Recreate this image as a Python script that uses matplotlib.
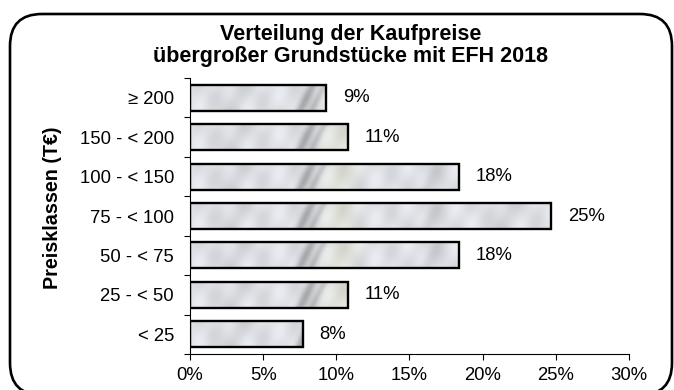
import numpy as np
import matplotlib.pyplot as plt
from matplotlib.patches import FancyBboxPatch

plt.rcParams['font.family'] = ['Liberation Sans', 'DejaVu Sans']

# Preisklassen (T€) von oben nach unten, Anteile in %
klassen = ['≥ 200', '150 - < 200', '100 - < 150', '75 - < 100',
           '50 - < 75', '25 - < 50', '< 25']
anteile = [9.3, 10.8, 18.4, 24.7, 18.4, 10.8, 7.7]
xticks = [0, 5, 10, 15, 20, 25, 30]

fig = plt.figure(figsize=(6.74, 3.9), dpi=100)
ax = fig.add_axes([0.2819, 0.0923, 0.6513, 0.7077])

# Rahmen mit runden Ecken um das ganze Diagramm
rahmen = FancyBboxPatch((0.10, -0.05), 6.62, 3.81,
                        boxstyle='round,pad=0,rounding_size=0.32',
                        transform=fig.dpi_scale_trans, fill=False,
                        edgecolor='black', linewidth=1.9, clip_on=False)
fig.patches.append(rahmen)

# Marmor-Textur fuer die Balken
u = np.linspace(0, 30, 900)
v = np.linspace(0, 1, 40)
U, V = np.meshgrid(u, v)
grau = 0.90 + 0.025 * np.sin(2 * np.pi * (U + 1.5 * V) / 3.1) \
    + 0.02 * np.sin(2 * np.pi * (U - 0.9 * V) / 1.7)
for u0, st, br in [(7.9, 0.22, 0.35), (8.7, 0.12, 0.25), (16.5, 0.08, 0.5),
                   (21.5, 0.07, 0.6), (3.0, 0.05, 0.8), (27.0, 0.05, 0.7)]:
    d = U - u0 - 0.9 * (V - 0.5)
    grau -= st * np.exp(-(d / br) ** 2)
grau = np.clip(grau, 0, 1)
textur = np.dstack([grau * 0.97, grau * 0.98, grau * 1.0])
# leicht beiger Fleck hinter der dunklen Ader
beige = 0.05 * np.exp(-((U - 10.2 - 0.6 * (V - 0.5)) / 1.2) ** 2)
textur[..., 2] -= beige
textur = np.clip(textur, 0, 1)

y = np.arange(len(klassen))[::-1]
hoehe = 0.66
bars = ax.barh(y, anteile, height=hoehe, color='none',
               edgecolor='black', linewidth=1.7, zorder=3)
for b, yy in zip(bars, y):
    im = ax.imshow(textur, extent=(0, 30, yy - hoehe / 2, yy + hoehe / 2),
                   origin='lower', aspect='auto', zorder=2,
                   interpolation='bilinear')
    im.set_clip_path(b)

for wert, yy in zip(anteile, y):
    ax.annotate(f'{wert:.0f}%', (wert, yy), xytext=(12, 0),
                textcoords='offset points', va='center', ha='left',
                fontsize=13.3)

ax.set_xlim(0, 30)
ax.set_ylim(-0.5, len(klassen) - 0.5)
ax.set_xticks(xticks)
ax.set_xticklabels([f'{t}%' for t in xticks])
ax.set_yticks(y)
ax.set_yticklabels(klassen)
ax.set_yticks(np.arange(len(klassen) + 1) - 0.5, minor=True)
ax.tick_params(axis='y', which='major', length=0, pad=11.5, labelsize=13.3)
ax.tick_params(axis='y', which='minor', length=4, width=0.8)
ax.tick_params(axis='x', length=4, width=0.8, pad=5, labelsize=13.3)

for s in ['top', 'right']:
    ax.spines[s].set_visible(False)
for s in ['left', 'bottom']:
    ax.spines[s].set_linewidth(0.8)

fig.text(0.0786, 0.4667, 'Preisklassen (T€)', rotation=90, ha='center',
         va='center', fontsize=14.2, fontweight='bold')

fig.text(0.5205, 0.8974, 'Verteilung der Kaufpreise', ha='center',
         va='baseline', fontsize=15.5, fontweight='bold')
fig.text(0.5205, 0.841, 'übergroßer Grundstücke mit EFH 2018', ha='center',
         va='baseline', fontsize=15.5, fontweight='bold')

fig.savefig('out.png', dpi=100)
